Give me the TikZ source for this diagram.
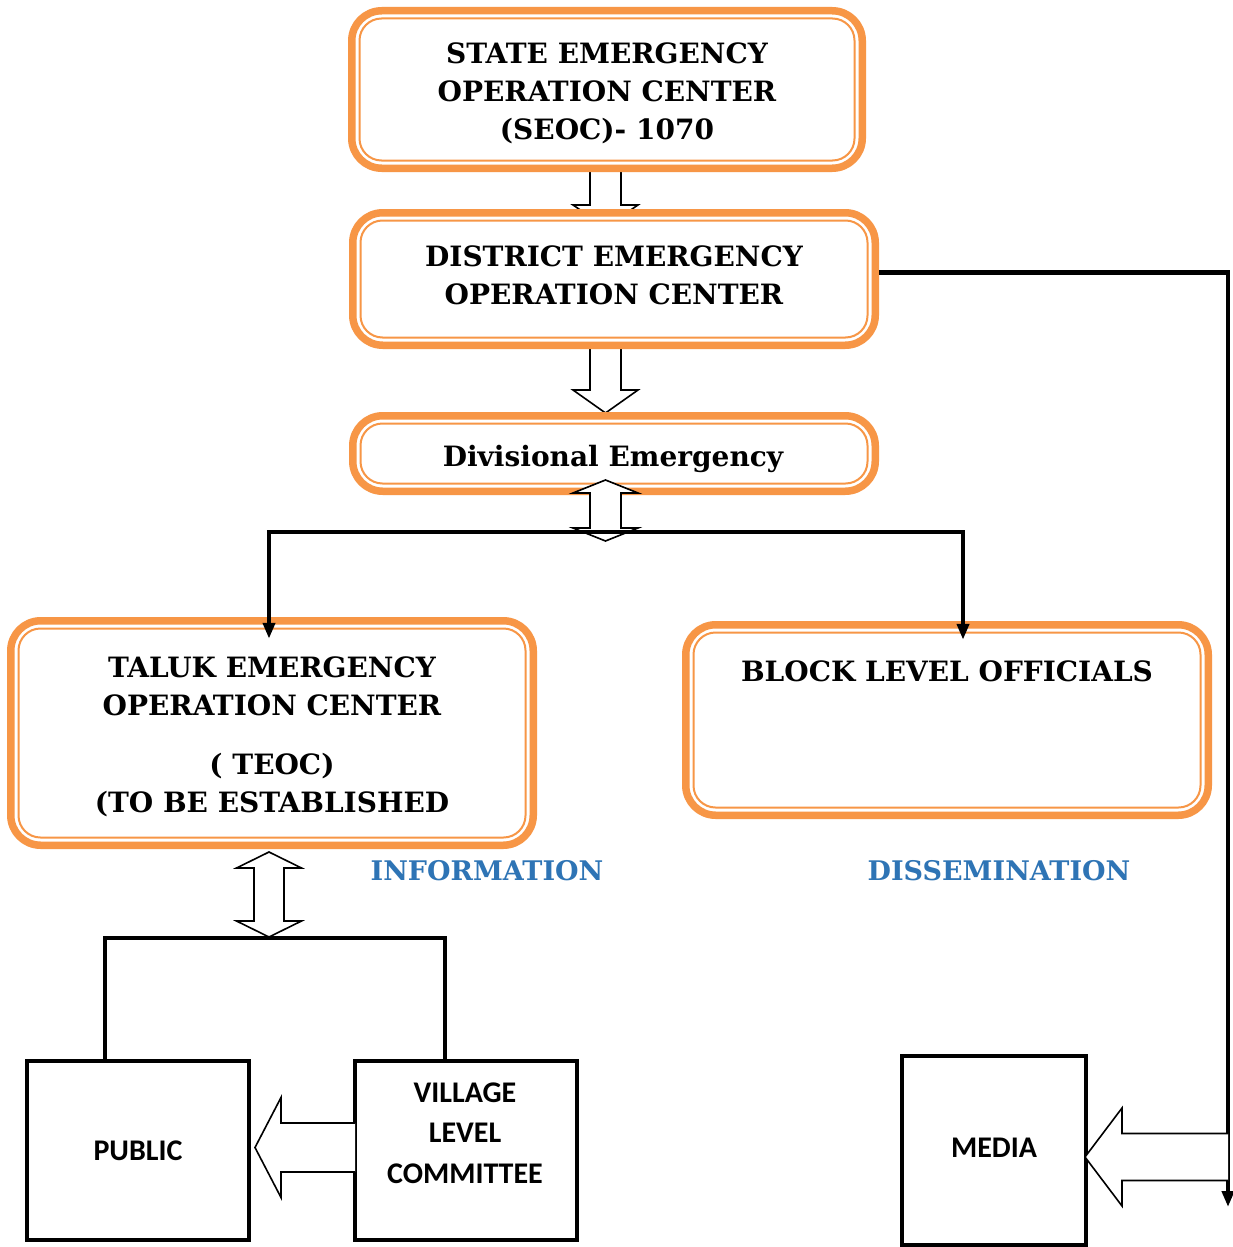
\documentclass[tikz,border=0pt]{standalone}
\usepackage{fontspec}
\setmainfont{DejaVu Serif}
\newfontfamily\sansb{Carlito}
\usetikzlibrary{calc,arrows.meta}
\definecolor{oorange}{RGB}{247,150,70}
\definecolor{iblue}{RGB}{46,116,181}
\begin{document}
\begin{tikzpicture}[x=1pt,y=-1pt,
  obox/.style={draw=oorange, line width=7.5pt, rounded corners=30pt, fill=white, inner sep=0pt, outer sep=0pt},
  oin/.style={draw=oorange, line width=2pt, rounded corners=22pt},
  bbox/.style={draw=black, line width=4.5pt, fill=white, inner sep=0pt, outer sep=0pt},
  stxt/.style={align=center, font=\sansb\bfseries\fontsize{30}{40.5}\selectfont, inner sep=0pt},
  txt/.style={align=center, font=\bfseries\fontsize{28}{38}\selectfont, inner sep=0pt},
  hollow/.style={draw=black, line width=1.6pt, fill=white, line join=miter},
  conn/.style={draw=black, line width=4.5pt},
  tipa/.style={-{Triangle[length=16pt,width=12pt]}},
  lbl/.style={text=iblue, font=\bfseries\fontsize{27}{30}\selectfont, inner sep=0pt}
]
\useasboundingbox (0,0) rectangle (1233,1247);
\fill[white] (0,0) rectangle (1233,1247);

% SEOC -> DEOC hollow arrow (head hidden under DEOC)
\begin{scope}[shift={(605.5,168)}]
\draw[hollow] (-15.5,-4) -- (-15.5,37) -- (-32.5,37) -- (0,59) -- (32.5,37) -- (15.5,37) -- (15.5,-4);
\end{scope}
% DEOC -> Divisional hollow arrow
\begin{scope}[shift={(605.5,345)}]
\draw[hollow] (-15.5,-4) -- (-15.5,45) -- (-32.5,45) -- (0,68) -- (32.5,45) -- (15.5,45) -- (15.5,-4);
\end{scope}

% orange boxes
\node[obox, minimum width=510.5pt, minimum height=157.5pt] (seoc) at (607,89.5) {};
\draw[oin] ($(seoc.north west)+(7.75,7.75)$) rectangle ($(seoc.south east)+(-7.75,-7.75)$);
\node[txt] (seoctxt) at (607,93.5) {STATE EMERGENCY\\OPERATION CENTER\\(SEOC)- 1070};

\node[obox, minimum width=522.5pt, minimum height=132.5pt] (deoc) at (614,279) {};
\draw[oin] ($(deoc.north west)+(7.75,7.75)$) rectangle ($(deoc.south east)+(-7.75,-7.75)$);
\node[txt] (deoctxt) at (614,275) {DISTRICT EMERGENCY\\OPERATION CENTER};

\node[obox, minimum width=522.5pt, minimum height=75.5pt] (div) at (614,453.5) {};
\draw[oin] ($(div.north west)+(7.75,7.75)$) rectangle ($(div.south east)+(-7.75,-7.75)$);
\node[txt] (divtxt) at (613,458.5) {Divisional Emergency};

\node[obox, minimum width=522.5pt, minimum height=224.5pt] (teoc) at (272,733) {};
\draw[oin] ($(teoc.north west)+(7.75,7.75)$) rectangle ($(teoc.south east)+(-7.75,-7.75)$);
\node[txt] (teoctxt) at (272,737) {TALUK EMERGENCY\\OPERATION CENTER\\[21pt]( TEOC)\\(TO BE ESTABLISHED};

\node[obox, minimum width=522.5pt, minimum height=190.5pt] (block) at (947,720) {};
\draw[oin] ($(block.north west)+(7.75,7.75)$) rectangle ($(block.south east)+(-7.75,-7.75)$);
\node[txt] (blocktxt) at (947,671) {BLOCK LEVEL OFFICIALS};

% Divisional <-> bus double hollow arrow
\begin{scope}[shift={($(div.south)+(-8.5,-11.25)$)}]
\draw[hollow] (0,0) -- (32.5,13) -- (15.5,13) -- (15.5,48) -- (32.5,48) -- (0,61) -- (-32.5,48) -- (-15.5,48) -- (-15.5,13) -- (-32.5,13) -- cycle;
\end{scope}

% bus to TEOC and Block
\coordinate (busL) at ($(teoc.north)+(-3,-89)$);
\coordinate (busR) at ($(block.north)+(16,-93)$);
\draw[conn] ([xshift=-2.25pt]busL) -- ([xshift=2.25pt]busR);
\draw[conn, tipa] (busL) -- ($(teoc.north)+(-3,18)$);
\draw[conn, tipa] (busR) -- ($(block.north)+(16,15)$);

% labels
\node[lbl] (info) at (487,871) {INFORMATION};
\node[lbl] (dissem) at (999,871) {DISSEMINATION};

% black boxes
\node[bbox, minimum width=222pt, minimum height=179pt] (public) at (138,1150.5) {};
\node[stxt] (publictxt) at (138,1150.5) {PUBLIC};
\node[bbox, minimum width=222pt, minimum height=179pt] (village) at (466,1150.5) {};
\node[stxt] (villagetxt) at (465,1133) {VILLAGE\\LEVEL\\COMMITTEE};
\node[bbox, minimum width=184pt, minimum height=189pt] (media) at (994,1150.5) {};
\node[stxt] (mediatxt) at (994,1148) {MEDIA};

% TEOC <-> lower bus double hollow arrow
\begin{scope}[shift={($(teoc.south)+(-3,6.75)$)}]
\draw[hollow] (0,0) -- (32.5,16) -- (15,16) -- (15,69) -- (32.5,69) -- (0,85) -- (-32.5,69) -- (-15,69) -- (-15,16) -- (-32.5,16) -- cycle;
\end{scope}

% lower bus
\draw[conn, line join=miter] (public.north -| 105,0) -- (105,938) -- (445,938) -- (village.north -| 445,0);

% Village -> Public hollow arrow
\begin{scope}[shift={($(public.east)+(6,-3)$)}]
\draw[hollow] (100,-24.5) -- (26,-24.5) -- (26,-50) -- (0,0) -- (26,50) -- (26,24.5) -- (100,24.5);
\end{scope}

% DEOC -> right side line -> down
\coordinate (rc) at (1228,272.5);
\draw[conn, tipa] ($(deoc.east)+(4,-6.5)$) -- (rc) -- (1228,1207);

% right line -> MEDIA hollow arrow
\begin{scope}[shift={($(media.east)+(-1,6.5)$)}]
\draw[hollow] (143,-23.5) -- (37,-23.5) -- (37,-49) -- (0,0) -- (37,49) -- (37,23.5) -- (143,23.5);
\end{scope}
\end{tikzpicture}
\end{document}
